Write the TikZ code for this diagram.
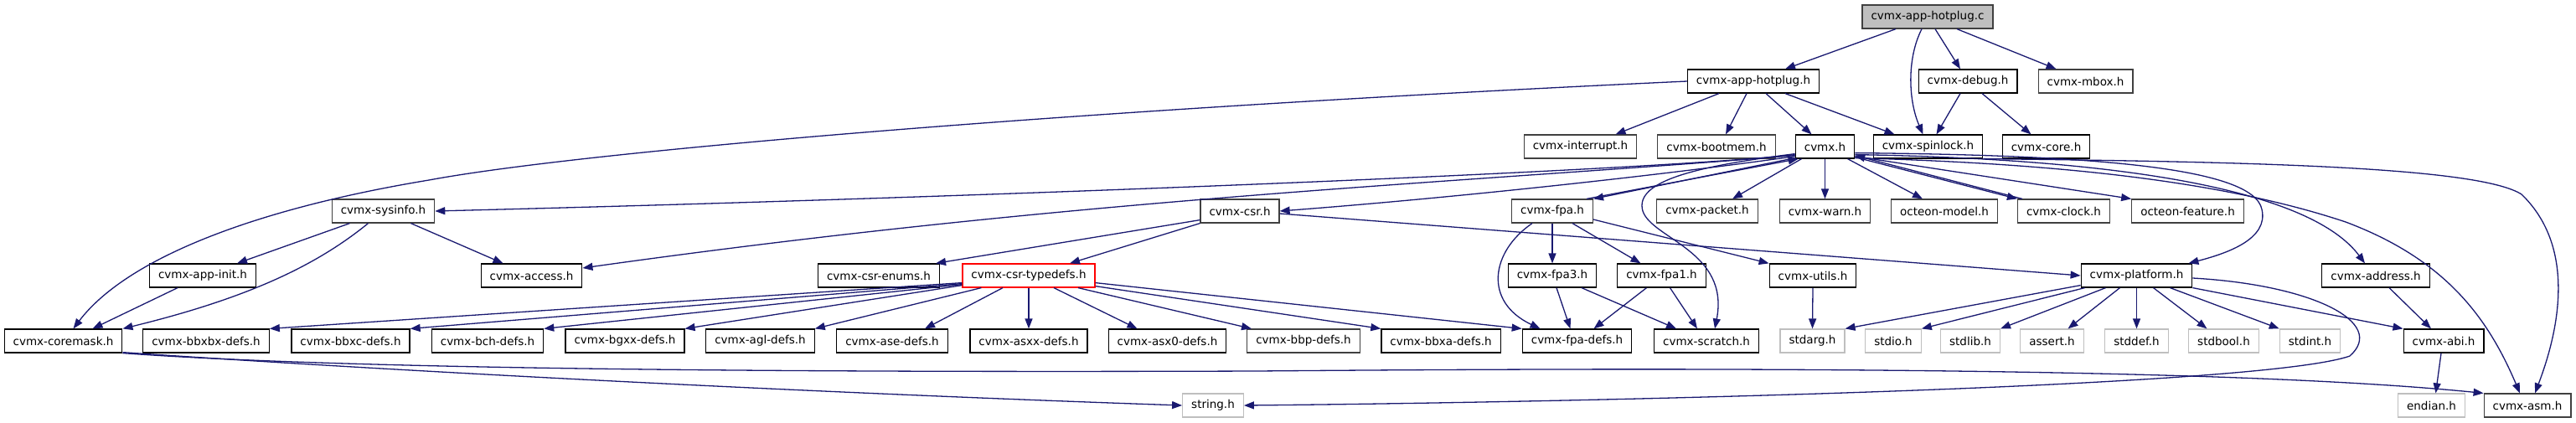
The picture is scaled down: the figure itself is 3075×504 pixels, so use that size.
\documentclass[tikz,border=0pt]{standalone}
\usepackage{fontspec}
\setmainfont{DejaVu Sans}
\usetikzlibrary{arrows.meta}
\definecolor{depblue}{HTML}{191970}
\definecolor{sysgray}{HTML}{BFBFBF}
\definecolor{dimgray}{HTML}{404040}

\begin{document}
\begin{tikzpicture}[
  x=1pt, y=-1pt,
  file/.style={draw=black, line width=1.2pt, fill=white, minimum height=28pt,
    inner xsep=10.5pt, inner ysep=0pt, font=\fontsize{13.5}{16}\selectfont},
  filedim/.style={file, draw=dimgray},
  sysfile/.style={file, draw=sysgray},
  rootfile/.style={file, draw=dimgray, fill=sysgray},
  cutfile/.style={file, draw=red},
  dep/.style={->, depblue, line width=1.3pt},
  >={Triangle[length=12pt, width=9pt]}
]
  \useasboundingbox (0,0) rectangle (3075,504);

  % --- top ---
  \node[rootfile] (hotplugc) at (2301,20) {cvmx-app-hotplug.c};

  \node[file]    (apph)  at (2093,97)   {cvmx-app-hotplug.h};
  \node[file]    (debug) at (2349,97)   {cvmx-debug.h};
  \node[filedim] (mbox)  at (2489.5,97) {cvmx-mbox.h};

  \node[filedim] (interrupt) at (1886.5,175) {cvmx-interrupt.h};
  \node[filedim] (bootmem)   at (2049,175)   {cvmx-bootmem.h};
  \node[file]    (cvmx)      at (2178.5,175) {cvmx.h};
  \node[file]    (spinlock)  at (2301.5,175) {cvmx-spinlock.h};
  \node[file]    (core)      at (2442.5,175) {cvmx-core.h};

  % --- middle ---
  \node[filedim] (sysinfo)  at (457.5,252)  {cvmx-sysinfo.h};
  \node[filedim] (csr)      at (1480,252)   {cvmx-csr.h};
  \node[filedim] (fpa)      at (1853,252)   {cvmx-fpa.h};
  \node[filedim] (packet)   at (2038,252)   {cvmx-packet.h};
  \node[filedim] (warn)     at (2178.5,252) {cvmx-warn.h};
  \node[filedim] (omodel)   at (2321,252)   {octeon-model.h};
  \node[filedim] (clock)    at (2463.5,252) {cvmx-clock.h};
  \node[filedim] (ofeature) at (2611.5,252) {octeon-feature.h};

  \node[file]    (appinit)  at (242,329)    {cvmx-app-init.h};
  \node[file]    (access)   at (634.5,329)  {cvmx-access.h};
  \node[file]    (enums)    at (1049,329)   {cvmx-csr-enums.h};
  \node[cutfile] (typedefs) at (1228,329)   {cvmx-csr-typedefs.h};
  \node[file]    (fpa3)     at (1853,329)   {cvmx-fpa3.h};
  \node[file]    (fpa1)     at (1983.5,329) {cvmx-fpa1.h};
  \node[file]    (utils)    at (2164,329)   {cvmx-utils.h};
  \node[file]    (platform) at (2550.5,329) {cvmx-platform.h};
  \node[file]    (address)  at (2836,329)   {cvmx-address.h};

  % --- bottom ---
  \node[file]    (coremask) at (75.5,407)   {cvmx-coremask.h};
  \node[file]    (bbxbx)    at (246,407)    {cvmx-bbxbx-defs.h};
  \node[file]    (bbxc)     at (418.5,407)  {cvmx-bbxc-defs.h};
  \node[file]    (bch)      at (582,407)    {cvmx-bch-defs.h};
  \node[file]    (bgxx)     at (746,407)    {cvmx-bgxx-defs.h};
  \node[file]    (agl)      at (907.5,407)  {cvmx-agl-defs.h};
  \node[file]    (ase)      at (1065,407)   {cvmx-ase-defs.h};
  \node[file]    (asxx)     at (1228,407)   {cvmx-asxx-defs.h};
  \node[file]    (asx0)     at (1393.5,407) {cvmx-asx0-defs.h};
  \node[filedim] (bbp)      at (1556,407)   {cvmx-bbp-defs.h};
  \node[file]    (bbxa)     at (1720,407)   {cvmx-bbxa-defs.h};
  \node[file]    (fpadefs)  at (1882.5,407) {cvmx-fpa-defs.h};
  \node[file]    (scratch)  at (2037,407)   {cvmx-scratch.h};
  \node[sysfile] (stdarg)   at (2163.5,407) {stdarg.h};
  \node[sysfile] (stdio)    at (2260,407)   {stdio.h};
  \node[sysfile] (stdlib)   at (2352,407)   {stdlib.h};
  \node[sysfile] (assert)   at (2449.5,407) {assert.h};
  \node[sysfile] (stddef)   at (2550.5,407) {stddef.h};
  \node[sysfile] (stdbool)  at (2654.5,407) {stdbool.h};
  \node[sysfile] (stdint)   at (2757.5,407) {stdint.h};
  \node[file]    (abi)      at (2917,407)   {cvmx-abi.h};

  \node[sysfile] (string)   at (1448,484)   {string.h};
  \node[sysfile] (endian)   at (2902.5,484) {endian.h};
  \node[filedim] (asm)      at (3017,484)   {cvmx-asm.h};

  % includes of the .c file
  \draw[dep] ([xshift=-38]hotplugc.south) -- ([xshift=38]apph.north);
  \draw[dep] ([xshift=-7]hotplugc.south) .. controls (2276,70) and (2278,120) .. ([xshift=-6]spinlock.north);
  \draw[dep] ([xshift=9]hotplugc.south) -- ([xshift=-9]debug.north);
  \draw[dep] ([xshift=35]hotplugc.south) -- ([xshift=-35]mbox.north);

  % cvmx-app-hotplug.h and cvmx-debug.h
  \draw[dep] (apph.west) .. controls (1300,130) and (700,180) .. (512,215)
    .. controls (300,250) and (150,310) .. ([xshift=12]coremask.north);
  \draw[dep] ([xshift=-41]apph.south) -- ([xshift=42]interrupt.north);
  \draw[dep] ([xshift=-8]apph.south) -- ([xshift=11]bootmem.north);
  \draw[dep] ([xshift=15]apph.south) -- ([xshift=-16]cvmx.north);
  \draw[dep] ([xshift=38]apph.south) -- ([xshift=-40]spinlock.north);
  \draw[dep] ([xshift=-9]debug.south) -- ([xshift=10]spinlock.north);
  \draw[dep] ([xshift=17]debug.south) -- ([xshift=-18]core.north);

  % cvmx.h
  \draw[dep] ([yshift=5]cvmx.south west) .. controls (1980,203) and (1200,235) .. (sysinfo.east);
  \draw[dep] ([yshift=4]cvmx.south west) .. controls (1750,218) and (1300,235) .. ([yshift=9]access.east);
  \draw[dep] ([yshift=3]cvmx.south west) .. controls (2000,207) and (1750,235) .. (csr.east);
  \draw[dep] ([yshift=1]cvmx.south west) -- (fpa.north east);
  \draw[dep] ([xshift=-8]fpa.north east) -- ([xshift=4]cvmx.south west);
  \draw[dep] ([yshift=6]cvmx.south west) .. controls (2030,198) and (1950,215) .. (1961,252)
    .. controls (1972,285) and (2065,300) .. ([xshift=10]scratch.north);
  \draw[dep] ([xshift=-28]cvmx.south) -- ([xshift=30]packet.north);
  \draw[dep] (cvmx.south) -- (warn.north);
  \draw[dep] ([xshift=27]cvmx.south) -- ([xshift=-26]omodel.north);
  \draw[dep] ([yshift=2]cvmx.south east) -- (clock.north west);
  \draw[dep] ([xshift=6]clock.north west) -- ([yshift=4]cvmx.south east);
  \draw[dep] ([yshift=3]cvmx.south east) -- (ofeature.north west);
  \draw[dep] ([yshift=7]cvmx.south east) .. controls (2500,185) and (2690,200) .. (2700,250)
    .. controls (2708,285) and (2660,302) .. ([xshift=-5]platform.north east);
  \draw[dep] ([yshift=5]cvmx.south east) .. controls (2550,190) and (2760,230) .. ([xshift=-13]address.north);
  \draw[dep] ([yshift=1]cvmx.south east) .. controls (2450,195) and (2650,215) .. (2800,265)
    .. controls (2920,310) and (2970,380) .. ([xshift=-9]asm.north);
  \draw[dep] (spinlock.south east) .. controls (2700,193) and (2960,200) .. (3010,232)
    .. controls (3070,290) and (3060,380) .. ([xshift=9]asm.north);

  % cvmx-sysinfo.h
  \draw[dep] ([xshift=-18]sysinfo.south) .. controls (380,315) and (300,355) .. (coremask.north east);
  \draw[dep] ([xshift=-40]sysinfo.south) -- ([xshift=41]appinit.north);
  \draw[dep] ([xshift=33]sysinfo.south) -- ([xshift=-34]access.north);
  \draw[dep] ([xshift=-30]appinit.south) -- ([xshift=35]coremask.north);

  % cvmx-csr.h
  \draw[dep] ([yshift=4]csr.south west) -- ([xshift=-5]enums.north east);
  \draw[dep] (csr.south west) -- ([xshift=49]typedefs.north);
  \draw[dep] ([yshift=-3]csr.east) -- (platform.west);

  % cvmx-csr-typedefs.h
  \draw[dep] ([yshift=6]typedefs.south west) -- (bbxbx.north east);
  \draw[dep] ([yshift=5]typedefs.south west) -- (bbxc.north east);
  \draw[dep] ([yshift=4]typedefs.south west) -- (bch.north east);
  \draw[dep] ([yshift=3]typedefs.south west) -- (bgxx.north east);
  \draw[dep] ([xshift=23]typedefs.south west) -- (agl.north east);
  \draw[dep] ([xshift=-31]typedefs.south) -- ([xshift=39]ase.north);
  \draw[dep] (typedefs.south) -- (asxx.north);
  \draw[dep] ([xshift=30]typedefs.south) -- ([xshift=-36]asx0.north);
  \draw[dep] ([xshift=59]typedefs.south) -- ([xshift=-62]bbp.north);
  \draw[dep] ([yshift=2]typedefs.south east) -- (bbxa.north west);
  \draw[dep] ([yshift=6]typedefs.south east) -- (fpadefs.north west);

  % cvmx-fpa.h
  \draw[dep] ([xshift=-24]fpa.south) .. controls (1780,300) and (1770,360) .. ([xshift=-44]fpadefs.north);
  \draw[dep] (fpa.south) -- (fpa3.north);
  \draw[dep] ([xshift=24]fpa.south) -- ([xshift=-25]fpa1.north);
  \draw[dep] ([yshift=-10]fpa.east) -- (utils.north west);
  \draw[dep] ([xshift=5]fpa3.south) -- ([xshift=-8]fpadefs.north);
  \draw[dep] ([xshift=35]fpa3.south) -- ([xshift=-36]scratch.north);
  \draw[dep] ([xshift=-18]fpa1.south) -- ([xshift=20]fpadefs.north);
  \draw[dep] ([xshift=10]fpa1.south) -- ([xshift=-11]scratch.north);
  \draw[dep] (utils.south) -- (stdarg.north);

  % cvmx-platform.h
  \draw[dep] ([yshift=3]platform.south west) -- (stdarg.north east);
  \draw[dep] ([xshift=5]platform.south west) -- (stdio.north east);
  \draw[dep] ([xshift=-37]platform.south) -- (stdlib.north east);
  \draw[dep] ([xshift=-20]platform.south) -- ([xshift=19]assert.north);
  \draw[dep] (platform.south) -- (stddef.north);
  \draw[dep] ([xshift=20]platform.south) -- ([xshift=-20]stdbool.north);
  \draw[dep] ([xshift=40]platform.south) -- (stdint.north west);
  \draw[dep] (platform.south east) -- (abi.north west);
  \draw[dep] ([yshift=-3]platform.east) .. controls (2760,340) and (2850,385) .. (2805,425)
    .. controls (2700,462) and (1900,480) .. (string.east);
  \draw[dep] ([xshift=16]address.south) -- ([xshift=-15]abi.north);
  \draw[dep] ([xshift=-3]abi.south) -- ([xshift=5]endian.north);

  % cvmx-coremask.h
  \draw[dep] ([yshift=1]coremask.south east) .. controls (500,445) and (1000,470) .. (string.west);
  \draw[dep] (coremask.south east) .. controls (400,440) and (900,445) .. (1500,443)
    .. controls (2200,437) and (2700,443) .. (asm.north west);
\end{tikzpicture}
\end{document}
